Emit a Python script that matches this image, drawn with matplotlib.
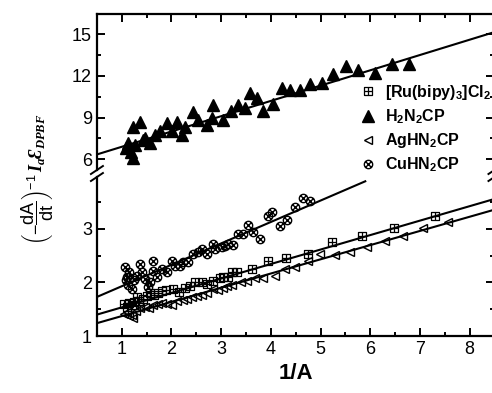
import matplotlib
matplotlib.use('Agg')
import matplotlib.pyplot as plt
from matplotlib.path import Path
from matplotlib.ticker import MultipleLocator

plt.rcParams['font.family'] = ['Liberation Sans', 'DejaVu Sans']
plt.rcParams['mathtext.fontset'] = 'custom'
plt.rcParams['mathtext.rm'] = 'Liberation Sans'
plt.rcParams['mathtext.it'] = 'Liberation Serif:italic:bold'
plt.rcParams['mathtext.bf'] = 'Liberation Sans:bold'

# H2N2CP (upper panel)
h2_x = [1.08, 1.12, 1.18, 1.22, 1.22, 1.27, 1.37, 1.42, 1.47, 1.57, 1.67, 1.77, 1.91, 2.01,
        2.11, 2.21, 2.27, 2.43, 2.53, 2.71, 2.81, 2.83, 3.03, 3.2, 3.34, 3.48, 3.58, 3.72,
        3.84, 4.04, 4.22, 4.38, 4.58, 4.79, 5.03, 5.25, 5.51, 5.75, 6.09, 6.44, 6.78]
h2_y = [6.8, 7.2, 6.5, 6.1, 8.3, 7.0, 8.7, 7.4, 7.5, 7.2, 7.75, 8.0, 8.6, 8.0,
        8.7, 7.75, 8.3, 9.4, 8.8, 8.5, 9.0, 9.9, 8.8, 9.5, 9.9, 9.7, 10.8, 10.4,
        9.5, 10.0, 11.1, 11.0, 11.0, 11.4, 11.5, 12.1, 12.7, 12.4, 12.2, 12.85, 12.85]
h2_fit_x = [0.5, 8.5]
h2_fit_y = [6.35, 15.15]

# [Ru(bipy)3]Cl2
ru_x = [1.05, 1.1, 1.15, 1.2, 1.25, 1.3, 1.35, 1.42, 1.5, 1.57, 1.65, 1.72, 1.81, 1.9, 2.03,
        2.15, 2.27, 2.38, 2.47, 2.61, 2.72, 2.83, 2.97, 3.03, 3.14, 3.22, 3.32, 3.62, 3.94,
        4.3, 4.75, 5.23, 5.83, 6.48, 7.3]
ru_y = [1.6, 1.55, 1.62, 1.58, 1.64, 1.72, 1.66, 1.7, 1.75, 1.81, 1.77, 1.8, 1.84, 1.86, 1.87,
        1.83, 1.9, 1.93, 2.0, 2.0, 1.98, 2.02, 2.09, 2.11, 2.1, 2.19, 2.19, 2.25, 2.4,
        2.45, 2.53, 2.75, 2.87, 3.02, 3.25]
ru_fit_x = [0.5, 8.5]
ru_fit_y = [1.40, 3.56]

# AgHN2CP
ag_x = [1.05, 1.1, 1.15, 1.2, 1.22, 1.28, 1.37, 1.47, 1.55, 1.63, 1.72, 1.81, 1.91, 2.01,
        2.12, 2.23, 2.32, 2.41, 2.52, 2.61, 2.72, 2.83, 2.93, 3.03, 3.12, 3.22, 3.4, 3.52,
        3.68, 3.84, 4.08, 4.28, 4.48, 4.75, 4.99, 5.29, 5.59, 5.93, 6.3, 6.66, 7.06, 7.56]
ag_y = [1.42, 1.45, 1.38, 1.4, 1.34, 1.46, 1.53, 1.55, 1.52, 1.58, 1.6, 1.62, 1.6, 1.58,
        1.66, 1.68, 1.7, 1.72, 1.74, 1.77, 1.8, 1.87, 1.86, 1.9, 1.93, 1.96, 2.0, 2.03,
        2.09, 2.09, 2.13, 2.25, 2.28, 2.4, 2.53, 2.51, 2.57, 2.66, 2.78, 2.87, 3.02, 3.13]
ag_fit_x = [0.5, 8.5]
ag_fit_y = [1.24, 3.36]

# CuHN2CP
cu_x = [1.06, 1.08, 1.1, 1.12, 1.15, 1.2, 1.25, 1.3, 1.37, 1.41, 1.47, 1.52, 1.57, 1.63,
        1.63, 1.71, 1.81, 1.91, 2.01, 2.07, 2.17, 2.23, 2.33, 2.43, 2.53, 2.61, 2.71, 2.83,
        2.87, 3.01, 3.07, 3.14, 3.24, 3.34, 3.44, 3.54, 3.64, 3.78, 3.94, 4.02, 4.18, 4.32,
        4.48, 4.64, 4.79]
cu_y = [2.28, 2.05, 2.11, 1.96, 2.2, 1.87, 2.05, 2.12, 2.34, 2.19, 2.06, 1.92, 2.0, 2.4,
        2.21, 2.11, 2.25, 2.19, 2.4, 2.3, 2.3, 2.38, 2.38, 2.53, 2.57, 2.62, 2.53, 2.72,
        2.62, 2.66, 2.68, 2.72, 2.7, 2.9, 2.9, 3.08, 2.95, 2.81, 3.25, 3.32, 3.06, 3.17,
        3.41, 3.57, 3.52]
cu_fit_x = [0.5, 5.9]
cu_fit_y = [1.73, 3.89]

labels = [r'[Ru(bipy)$_\mathbf{3}$]Cl$_\mathbf{2}$', r'H$_\mathbf{2}$N$_\mathbf{2}$CP',
          r'AgHN$_\mathbf{2}$CP', r'CuHN$_\mathbf{2}$CP']

# custom markers: square with plus, circle with cross
box_plus = Path.make_compound_path(
    Path([(-1, -1), (1, -1), (1, 1), (-1, 1), (-1, -1)]),
    Path([(-1, 0), (1, 0)]), Path([(0, -1), (0, 1)]))
circ_x = Path.make_compound_path(
    Path.unit_circle(),
    Path([(-0.75, -0.75), (0.75, 0.75)]), Path([(-0.75, 0.75), (0.75, -0.75)]))

fig = plt.figure(figsize=(4.92, 3.93), dpi=100)
ax_top = fig.add_axes([0.197, 0.5674, 0.808, 0.397])
ax_bot = fig.add_axes([0.197, 0.145, 0.808, 0.4046])

lw = 1.5
h_ru, = ax_bot.plot(ru_x, ru_y, ls='none', marker=box_plus, ms=6, mfc='none', mec='black', mew=0.9)
h_ag, = ax_bot.plot(ag_x, ag_y, ls='none', marker='<', ms=6, mfc='none', mec='black', mew=1.0)
h_cu, = ax_bot.plot(cu_x, cu_y, ls='none', marker=circ_x, ms=6, mfc='none', mec='black', mew=1.0)
ax_bot.plot(ru_fit_x, ru_fit_y, color='black', lw=lw)
ax_bot.plot(ag_fit_x, ag_fit_y, color='black', lw=lw)
ax_bot.plot(cu_fit_x, cu_fit_y, color='black', lw=lw)

h_h2, = ax_top.plot(h2_x, h2_y, ls='none', marker='^', ms=8, color='black')
ax_top.plot(h2_fit_x, h2_fit_y, color='black', lw=lw)

for ax in (ax_top, ax_bot):
    ax.set_xlim(0.5, 8.5)
    ax.xaxis.set_major_locator(MultipleLocator(1))
    ax.xaxis.set_minor_locator(MultipleLocator(0.5))
    for s in ax.spines.values():
        s.set_linewidth(1.6)
    ax.tick_params(which='both', direction='in', width=1.4, left=True, right=True, labelsize=13)
    ax.tick_params(which='major', length=5.5)
    ax.tick_params(which='minor', length=3)

ax_top.set_ylim(5.23, 16.45)
ax_top.yaxis.set_major_locator(MultipleLocator(3))
ax_top.yaxis.set_minor_locator(MultipleLocator(1.5))
ax_top.spines['bottom'].set_visible(False)
ax_top.tick_params(which='both', bottom=False, top=True, labelbottom=False)

ax_bot.set_ylim(1, 3.97)
ax_bot.yaxis.set_major_locator(MultipleLocator(1))
ax_bot.yaxis.set_minor_locator(MultipleLocator(0.5))
ax_bot.spines['top'].set_visible(False)
ax_bot.tick_params(which='both', top=False, bottom=True)
ax_bot.set_xlabel('1/A', fontsize=16, fontweight='bold', labelpad=4)

# axis break marks
dx = 6 / 397.6
for xa in (0, 1):
    ax_top.plot([xa - dx, xa + dx], [-4 / 156, 4 / 156], transform=ax_top.transAxes,
                color='black', lw=1.4, clip_on=False)
    ax_bot.plot([xa - dx, xa + dx], [1 - 4 / 159, 1 + 4 / 159], transform=ax_bot.transAxes,
                color='black', lw=1.4, clip_on=False)

fig.text(0.075, 0.545,
         r'$\left(\mathrm{-}\dfrac{\mathrm{dA}}{\mathrm{dt}}\right)^{\mathrm{-1}}\,I_a$Ɛ$_{DPBF}$',
         rotation=90, fontsize=13, ha='center', va='center',
         family=['Liberation Serif', 'DejaVu Serif'], style='italic', weight='bold')

fig.legend([h_ru, h_h2, h_ag, h_cu], labels, loc='upper left', bbox_to_anchor=(0.728, 0.79),
           frameon=False, borderpad=0, borderaxespad=0, handlelength=1.2, handletextpad=0.5,
           labelspacing=0.35, prop={'weight': 'bold', 'size': 11.5})

fig.savefig('out.png', dpi=100)
